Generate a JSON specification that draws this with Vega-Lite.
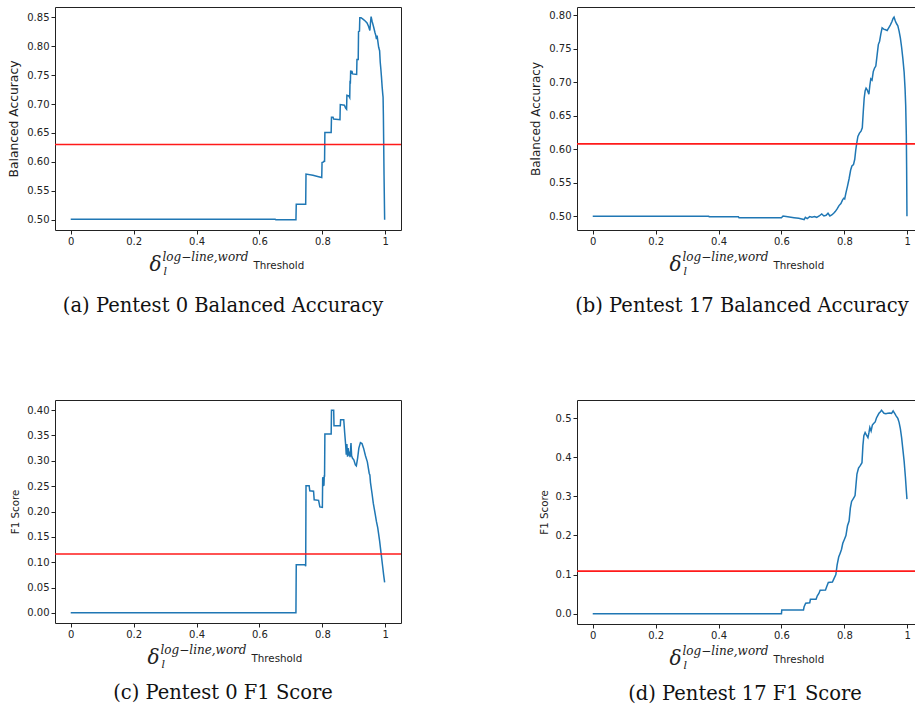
{
  "$schema": "https://vega.github.io/schema/vega-lite/v6.json",
  "padding": {"left": 7, "top": 6, "right": 0, "bottom": 0},
  "background": "white",
  "columns": 2,
  "spacing": {"row": 83, "column": 126},
  "config": {
    "view": {"stroke": "#222", "strokeWidth": 1},
    "axis": {"labelFont": "DejaVu Sans", "labelFontSize": 10, "labelColor": "#222", "tickColor": "#222", "tickSize": 4, "labelPadding": 2, "domain": false, "grid": false, "titleFont": "DejaVu Sans", "titleFontWeight": "normal", "titleColor": "#222", "titlePadding": 6},
    "title": {"font": "DejaVu Serif", "fontSize": 19.5, "fontWeight": "normal", "color": "#111", "orient": "bottom", "frame": "group", "anchor": "middle", "offset": 21, "dx": -5}
  },
  "datasets": {
    "a": [
      {"t":0,"v":0.501},{"t":0.1,"v":0.501},{"t":0.2,"v":0.501},{"t":0.3,"v":0.501},{"t":0.4,"v":0.501},{"t":0.5,"v":0.501},{"t":0.6,"v":0.501},{"t":0.65,"v":0.501},{"t":0.652,"v":0.5},{"t":0.716,"v":0.5},{"t":0.717,"v":0.527},{"t":0.747,"v":0.527},{"t":0.748,"v":0.579},{"t":0.77,"v":0.577},{"t":0.785,"v":0.575},{"t":0.798,"v":0.573},{"t":0.799,"v":0.599},{"t":0.804,"v":0.6},{"t":0.805,"v":0.601},{"t":0.807,"v":0.601},{"t":0.808,"v":0.651},{"t":0.828,"v":0.651},{"t":0.829,"v":0.677},{"t":0.834,"v":0.677},{"t":0.836,"v":0.674},{"t":0.856,"v":0.673},{"t":0.857,"v":0.699},{"t":0.87,"v":0.698},{"t":0.874,"v":0.693},{"t":0.877,"v":0.691},{"t":0.878,"v":0.715},{"t":0.884,"v":0.714},{"t":0.887,"v":0.711},{"t":0.888,"v":0.74},{"t":0.889,"v":0.735},{"t":0.89,"v":0.758},{"t":0.892,"v":0.752},{"t":0.894,"v":0.757},{"t":0.896,"v":0.752},{"t":0.909,"v":0.751},{"t":0.91,"v":0.777},{"t":0.914,"v":0.777},{"t":0.915,"v":0.825},{"t":0.918,"v":0.826},{"t":0.919,"v":0.849},{"t":0.923,"v":0.849},{"t":0.93,"v":0.846},{"t":0.937,"v":0.843},{"t":0.942,"v":0.84},{"t":0.947,"v":0.834},{"t":0.951,"v":0.827},{"t":0.953,"v":0.84},{"t":0.955,"v":0.851},{"t":0.958,"v":0.843},{"t":0.963,"v":0.833},{"t":0.967,"v":0.824},{"t":0.97,"v":0.818},{"t":0.972,"v":0.812},{"t":0.974,"v":0.818},{"t":0.976,"v":0.81},{"t":0.979,"v":0.798},{"t":0.982,"v":0.792},{"t":0.984,"v":0.772},{"t":0.986,"v":0.76},{"t":0.988,"v":0.746},{"t":0.99,"v":0.73},{"t":0.992,"v":0.717},{"t":0.993,"v":0.712},{"t":0.994,"v":0.68},{"t":0.995,"v":0.63},{"t":0.996,"v":0.58},{"t":0.998,"v":0.5}
    ],
    "b": [
      {"t":0,"v":0.5},{"t":0.1,"v":0.5},{"t":0.2,"v":0.5},{"t":0.3,"v":0.5},{"t":0.369,"v":0.5},{"t":0.37,"v":0.4995},{"t":0.463,"v":0.4995},{"t":0.465,"v":0.498},{"t":0.6,"v":0.498},{"t":0.605,"v":0.5005},{"t":0.62,"v":0.4995},{"t":0.64,"v":0.498},{"t":0.655,"v":0.497},{"t":0.668,"v":0.4955},{"t":0.672,"v":0.495},{"t":0.676,"v":0.4985},{"t":0.682,"v":0.4965},{"t":0.69,"v":0.4995},{"t":0.697,"v":0.4985},{"t":0.705,"v":0.4995},{"t":0.712,"v":0.4985},{"t":0.72,"v":0.5005},{"t":0.728,"v":0.5035},{"t":0.735,"v":0.5005},{"t":0.742,"v":0.5015},{"t":0.748,"v":0.5045},{"t":0.754,"v":0.5005},{"t":0.76,"v":0.502},{"t":0.766,"v":0.5045},{"t":0.771,"v":0.507},{"t":0.777,"v":0.511},{"t":0.783,"v":0.516},{"t":0.789,"v":0.519},{"t":0.794,"v":0.524},{"t":0.798,"v":0.527},{"t":0.801,"v":0.526},{"t":0.805,"v":0.535},{"t":0.81,"v":0.545},{"t":0.815,"v":0.556},{"t":0.82,"v":0.569},{"t":0.824,"v":0.575},{"t":0.829,"v":0.577},{"t":0.833,"v":0.585},{"t":0.836,"v":0.598},{"t":0.839,"v":0.608},{"t":0.843,"v":0.619},{"t":0.848,"v":0.624},{"t":0.853,"v":0.627},{"t":0.857,"v":0.632},{"t":0.86,"v":0.655},{"t":0.863,"v":0.676},{"t":0.866,"v":0.687},{"t":0.869,"v":0.691},{"t":0.873,"v":0.688},{"t":0.878,"v":0.682},{"t":0.881,"v":0.695},{"t":0.884,"v":0.705},{"t":0.888,"v":0.703},{"t":0.892,"v":0.716},{"t":0.896,"v":0.721},{"t":0.9,"v":0.724},{"t":0.904,"v":0.74},{"t":0.908,"v":0.756},{"t":0.912,"v":0.761},{"t":0.916,"v":0.772},{"t":0.92,"v":0.781},{"t":0.925,"v":0.779},{"t":0.931,"v":0.778},{"t":0.936,"v":0.777},{"t":0.941,"v":0.781},{"t":0.946,"v":0.785},{"t":0.951,"v":0.79},{"t":0.955,"v":0.795},{"t":0.958,"v":0.797},{"t":0.962,"v":0.791},{"t":0.966,"v":0.787},{"t":0.97,"v":0.784},{"t":0.974,"v":0.776},{"t":0.978,"v":0.766},{"t":0.982,"v":0.752},{"t":0.986,"v":0.735},{"t":0.99,"v":0.715},{"t":0.993,"v":0.69},{"t":0.995,"v":0.665},{"t":0.997,"v":0.62},{"t":0.998,"v":0.57},{"t":0.999,"v":0.5}
    ],
    "c": [
      {"t":0,"v":0},{"t":0.2,"v":0},{"t":0.4,"v":0},{"t":0.6,"v":0},{"t":0.716,"v":0},{"t":0.717,"v":0.095},{"t":0.745,"v":0.095},{"t":0.747,"v":0.092},{"t":0.748,"v":0.251},{"t":0.758,"v":0.251},{"t":0.76,"v":0.241},{"t":0.772,"v":0.24},{"t":0.774,"v":0.223},{"t":0.788,"v":0.222},{"t":0.792,"v":0.209},{"t":0.8,"v":0.208},{"t":0.801,"v":0.265},{"t":0.802,"v":0.268},{"t":0.803,"v":0.251},{"t":0.805,"v":0.252},{"t":0.806,"v":0.27},{"t":0.807,"v":0.27},{"t":0.808,"v":0.353},{"t":0.828,"v":0.353},{"t":0.829,"v":0.4},{"t":0.836,"v":0.4},{"t":0.837,"v":0.369},{"t":0.857,"v":0.369},{"t":0.858,"v":0.381},{"t":0.868,"v":0.381},{"t":0.871,"v":0.355},{"t":0.874,"v":0.332},{"t":0.876,"v":0.312},{"t":0.878,"v":0.333},{"t":0.88,"v":0.308},{"t":0.882,"v":0.325},{"t":0.884,"v":0.31},{"t":0.886,"v":0.318},{"t":0.888,"v":0.307},{"t":0.891,"v":0.335},{"t":0.893,"v":0.31},{"t":0.896,"v":0.305},{"t":0.9,"v":0.302},{"t":0.905,"v":0.292},{"t":0.908,"v":0.29},{"t":0.912,"v":0.305},{"t":0.916,"v":0.325},{"t":0.921,"v":0.336},{"t":0.926,"v":0.334},{"t":0.931,"v":0.325},{"t":0.937,"v":0.31},{"t":0.943,"v":0.298},{"t":0.949,"v":0.275},{"t":0.951,"v":0.272},{"t":0.953,"v":0.257},{"t":0.958,"v":0.235},{"t":0.962,"v":0.216},{"t":0.968,"v":0.195},{"t":0.972,"v":0.18},{"t":0.976,"v":0.168},{"t":0.982,"v":0.142},{"t":0.987,"v":0.116},{"t":0.992,"v":0.09},{"t":0.995,"v":0.074},{"t":0.998,"v":0.06}
    ],
    "d": [
      {"t":0,"v":0},{"t":0.2,"v":0},{"t":0.4,"v":0},{"t":0.6,"v":0},{"t":0.601,"v":0.01},{"t":0.67,"v":0.01},{"t":0.672,"v":0.018},{"t":0.677,"v":0.027},{"t":0.69,"v":0.028},{"t":0.692,"v":0.037},{"t":0.71,"v":0.037},{"t":0.714,"v":0.046},{"t":0.719,"v":0.052},{"t":0.723,"v":0.06},{"t":0.74,"v":0.061},{"t":0.744,"v":0.07},{"t":0.749,"v":0.08},{"t":0.762,"v":0.081},{"t":0.767,"v":0.09},{"t":0.773,"v":0.1},{"t":0.777,"v":0.125},{"t":0.782,"v":0.145},{"t":0.787,"v":0.155},{"t":0.791,"v":0.165},{"t":0.795,"v":0.18},{"t":0.8,"v":0.19},{"t":0.805,"v":0.2},{"t":0.81,"v":0.225},{"t":0.815,"v":0.237},{"t":0.819,"v":0.27},{"t":0.823,"v":0.287},{"t":0.829,"v":0.295},{"t":0.834,"v":0.302},{"t":0.837,"v":0.33},{"t":0.84,"v":0.357},{"t":0.845,"v":0.372},{"t":0.851,"v":0.379},{"t":0.856,"v":0.386},{"t":0.859,"v":0.43},{"t":0.862,"v":0.455},{"t":0.866,"v":0.463},{"t":0.87,"v":0.457},{"t":0.875,"v":0.45},{"t":0.878,"v":0.462},{"t":0.881,"v":0.476},{"t":0.885,"v":0.467},{"t":0.889,"v":0.482},{"t":0.893,"v":0.486},{"t":0.898,"v":0.49},{"t":0.902,"v":0.5},{"t":0.906,"v":0.506},{"t":0.91,"v":0.512},{"t":0.914,"v":0.515},{"t":0.918,"v":0.52},{"t":0.922,"v":0.516},{"t":0.926,"v":0.512},{"t":0.932,"v":0.511},{"t":0.938,"v":0.512},{"t":0.944,"v":0.513},{"t":0.95,"v":0.512},{"t":0.955,"v":0.518},{"t":0.96,"v":0.512},{"t":0.965,"v":0.505},{"t":0.97,"v":0.499},{"t":0.974,"v":0.489},{"t":0.978,"v":0.473},{"t":0.982,"v":0.45},{"t":0.986,"v":0.42},{"t":0.99,"v":0.39},{"t":0.994,"v":0.35},{"t":0.997,"v":0.315},{"t":0.999,"v":0.293}
    ]
  },
  "concat": [
    {
      "width": 346, "height": 223,
      "title": {"text": "(a) Pentest 0 Balanced Accuracy"},
      "data": {"name": "a"},
      "encoding": {"y": {"field": "v", "type": "quantitative", "scale": {"domain": [0.4825, 0.8675], "nice": false, "zero": false}, "axis": {"values": [0.5, 0.55, 0.6, 0.65, 0.7, 0.75, 0.8, 0.85], "format": ".2f", "title": "Balanced Accuracy", "titleFontSize": 12.3}}},
      "layer": [
        {"mark": {"type": "line", "color": "#1f77b4", "strokeWidth": 1.5},
         "encoding": {"x": {"field": "t", "type": "quantitative", "scale": {"domain": [-0.05, 1.05], "nice": false, "zero": false},
                 "axis": {"orient": "bottom", "values": [0, 0.2, 0.4, 0.6, 0.8, 1], "labelExpr": "datum.value == 0 ? '0' : datum.value == 1 ? '1' : format(datum.value, '.1f')", "title": "Threshold", "titleX": 198, "titleY": 38, "titleAlign": "left", "titleBaseline": "alphabetic", "titleFontSize": 10.3}}}},
        {"mark": {"type": "line", "strokeOpacity": 0},
         "encoding": {"x": {"field": "t", "type": "quantitative", "axis": {"orient": "bottom", "labels": false, "ticks": false, "title": "δ", "titleX": 94, "titleY": 40, "titleAlign": "left", "titleBaseline": "alphabetic", "titleFont": "DejaVu Serif", "titleFontStyle": "italic", "titleFontSize": 20}}}},
        {"mark": {"type": "line", "strokeOpacity": 0},
         "encoding": {"x": {"field": "t", "type": "quantitative", "axis": {"orient": "bottom", "labels": false, "ticks": false, "title": "log−line,word", "titleX": 107, "titleY": 30, "titleAlign": "left", "titleBaseline": "alphabetic", "titleFont": "DejaVu Serif", "titleFontStyle": "italic", "titleFontSize": 12}}}},
        {"mark": {"type": "line", "strokeOpacity": 0},
         "encoding": {"x": {"field": "t", "type": "quantitative", "axis": {"orient": "bottom", "labels": false, "ticks": false, "title": "l", "titleX": 108, "titleY": 44, "titleAlign": "left", "titleBaseline": "alphabetic", "titleFont": "DejaVu Serif", "titleFontStyle": "italic", "titleFontSize": 11}}}},
        {"data": {"values": [{"v": 0.63}]}, "mark": {"type": "rule", "color": "#ff1a1a", "strokeWidth": 1.6}, "encoding": {}}
      ],
      "resolve": {"axis": {"x": "independent"}}
    },
    {
      "width": 346, "height": 223,
      "title": {"text": "(b) Pentest 17 Balanced Accuracy", "dx": -8},
      "data": {"name": "b"},
      "encoding": {"y": {"field": "v", "type": "quantitative", "scale": {"domain": [0.4796, 0.812], "nice": false, "zero": false}, "axis": {"values": [0.5, 0.55, 0.6, 0.65, 0.7, 0.75, 0.8], "format": ".2f", "title": "Balanced Accuracy", "titleFontSize": 12}}},
      "layer": [
        {"mark": {"type": "line", "color": "#1f77b4", "strokeWidth": 1.5},
         "encoding": {"x": {"field": "t", "type": "quantitative", "scale": {"domain": [-0.05, 1.05], "nice": false, "zero": false},
                 "axis": {"orient": "bottom", "values": [0, 0.2, 0.4, 0.6, 0.8, 1], "labelExpr": "datum.value == 0 ? '0' : datum.value == 1 ? '1' : format(datum.value, '.1f')", "title": "Threshold", "titleX": 196, "titleY": 38, "titleAlign": "left", "titleBaseline": "alphabetic", "titleFontSize": 10.3}}}},
        {"mark": {"type": "line", "strokeOpacity": 0},
         "encoding": {"x": {"field": "t", "type": "quantitative", "axis": {"orient": "bottom", "labels": false, "ticks": false, "title": "δ", "titleX": 92, "titleY": 40, "titleAlign": "left", "titleBaseline": "alphabetic", "titleFont": "DejaVu Serif", "titleFontStyle": "italic", "titleFontSize": 20}}}},
        {"mark": {"type": "line", "strokeOpacity": 0},
         "encoding": {"x": {"field": "t", "type": "quantitative", "axis": {"orient": "bottom", "labels": false, "ticks": false, "title": "log−line,word", "titleX": 105, "titleY": 30, "titleAlign": "left", "titleBaseline": "alphabetic", "titleFont": "DejaVu Serif", "titleFontStyle": "italic", "titleFontSize": 12}}}},
        {"mark": {"type": "line", "strokeOpacity": 0},
         "encoding": {"x": {"field": "t", "type": "quantitative", "axis": {"orient": "bottom", "labels": false, "ticks": false, "title": "l", "titleX": 106, "titleY": 44, "titleAlign": "left", "titleBaseline": "alphabetic", "titleFont": "DejaVu Serif", "titleFontStyle": "italic", "titleFontSize": 11}}}},
        {"data": {"values": [{"v": 0.608}]}, "mark": {"type": "rule", "color": "#ff1a1a", "strokeWidth": 1.6}, "encoding": {}}
      ],
      "resolve": {"axis": {"x": "independent"}}
    },
    {
      "width": 346, "height": 223,
      "title": {"text": "(c) Pentest 0 F1 Score", "offset": 15},
      "data": {"name": "c"},
      "encoding": {"y": {"field": "v", "type": "quantitative", "scale": {"domain": [-0.02, 0.42], "nice": false, "zero": false}, "axis": {"values": [0, 0.05, 0.1, 0.15, 0.2, 0.25, 0.3, 0.35, 0.4], "format": ".2f", "title": "F1 Score", "titleFontSize": 10.3}}},
      "layer": [
        {"mark": {"type": "line", "color": "#1f77b4", "strokeWidth": 1.5},
         "encoding": {"x": {"field": "t", "type": "quantitative", "scale": {"domain": [-0.05, 1.05], "nice": false, "zero": false},
                 "axis": {"orient": "bottom", "values": [0, 0.2, 0.4, 0.6, 0.8, 1], "labelExpr": "datum.value == 0 ? '0' : datum.value == 1 ? '1' : format(datum.value, '.1f')", "title": "Threshold", "titleX": 196, "titleY": 38, "titleAlign": "left", "titleBaseline": "alphabetic", "titleFontSize": 10.3}}}},
        {"mark": {"type": "line", "strokeOpacity": 0},
         "encoding": {"x": {"field": "t", "type": "quantitative", "axis": {"orient": "bottom", "labels": false, "ticks": false, "title": "δ", "titleX": 92, "titleY": 40, "titleAlign": "left", "titleBaseline": "alphabetic", "titleFont": "DejaVu Serif", "titleFontStyle": "italic", "titleFontSize": 20}}}},
        {"mark": {"type": "line", "strokeOpacity": 0},
         "encoding": {"x": {"field": "t", "type": "quantitative", "axis": {"orient": "bottom", "labels": false, "ticks": false, "title": "log−line,word", "titleX": 105, "titleY": 30, "titleAlign": "left", "titleBaseline": "alphabetic", "titleFont": "DejaVu Serif", "titleFontStyle": "italic", "titleFontSize": 12}}}},
        {"mark": {"type": "line", "strokeOpacity": 0},
         "encoding": {"x": {"field": "t", "type": "quantitative", "axis": {"orient": "bottom", "labels": false, "ticks": false, "title": "l", "titleX": 106, "titleY": 44, "titleAlign": "left", "titleBaseline": "alphabetic", "titleFont": "DejaVu Serif", "titleFontStyle": "italic", "titleFontSize": 11}}}},
        {"data": {"values": [{"v": 0.116}]}, "mark": {"type": "rule", "color": "#ff1a1a", "strokeWidth": 1.6}, "encoding": {}}
      ],
      "resolve": {"axis": {"x": "independent"}}
    },
    {
      "width": 346, "height": 224,
      "title": {"text": "(d) Pentest 17 F1 Score", "offset": 15},
      "data": {"name": "d"},
      "encoding": {"y": {"field": "v", "type": "quantitative", "scale": {"domain": [-0.026, 0.546], "nice": false, "zero": false}, "axis": {"values": [0, 0.1, 0.2, 0.3, 0.4, 0.5], "format": ".1f", "title": "F1 Score", "titleFontSize": 10.3}}},
      "layer": [
        {"mark": {"type": "line", "color": "#1f77b4", "strokeWidth": 1.5},
         "encoding": {"x": {"field": "t", "type": "quantitative", "scale": {"domain": [-0.05, 1.05], "nice": false, "zero": false},
                 "axis": {"orient": "bottom", "values": [0, 0.2, 0.4, 0.6, 0.8, 1], "labelExpr": "datum.value == 0 ? '0' : datum.value == 1 ? '1' : format(datum.value, '.1f')", "title": "Threshold", "titleX": 196, "titleY": 38, "titleAlign": "left", "titleBaseline": "alphabetic", "titleFontSize": 10.3}}}},
        {"mark": {"type": "line", "strokeOpacity": 0},
         "encoding": {"x": {"field": "t", "type": "quantitative", "axis": {"orient": "bottom", "labels": false, "ticks": false, "title": "δ", "titleX": 92, "titleY": 40, "titleAlign": "left", "titleBaseline": "alphabetic", "titleFont": "DejaVu Serif", "titleFontStyle": "italic", "titleFontSize": 20}}}},
        {"mark": {"type": "line", "strokeOpacity": 0},
         "encoding": {"x": {"field": "t", "type": "quantitative", "axis": {"orient": "bottom", "labels": false, "ticks": false, "title": "log−line,word", "titleX": 105, "titleY": 30, "titleAlign": "left", "titleBaseline": "alphabetic", "titleFont": "DejaVu Serif", "titleFontStyle": "italic", "titleFontSize": 12}}}},
        {"mark": {"type": "line", "strokeOpacity": 0},
         "encoding": {"x": {"field": "t", "type": "quantitative", "axis": {"orient": "bottom", "labels": false, "ticks": false, "title": "l", "titleX": 106, "titleY": 44, "titleAlign": "left", "titleBaseline": "alphabetic", "titleFont": "DejaVu Serif", "titleFontStyle": "italic", "titleFontSize": 11}}}},
        {"data": {"values": [{"v": 0.109}]}, "mark": {"type": "rule", "color": "#ff1a1a", "strokeWidth": 1.6}, "encoding": {}}
      ],
      "resolve": {"axis": {"x": "independent"}}
    }
  ]
}
